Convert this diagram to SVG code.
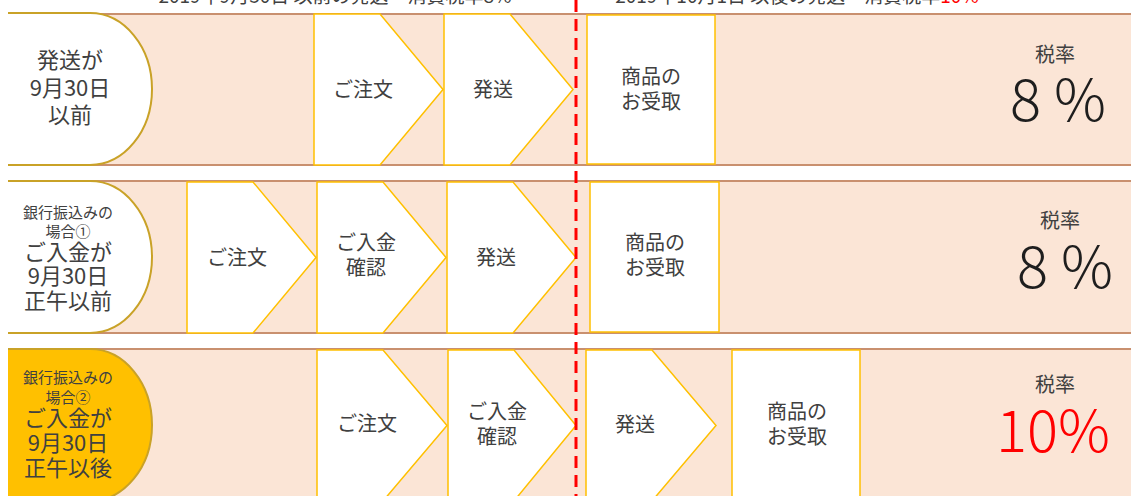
<svg xmlns="http://www.w3.org/2000/svg" width="1131" height="496" viewBox="0 0 1131 496">
<style>
text{font-family:"Noto Sans CJK JP","Noto Sans",sans-serif;fill:#404040;text-anchor:middle}
.band{fill:#FBE5D6;stroke:none}
.bline{stroke:#C9906F;stroke-width:2;fill:none}
.lfill{fill:#FFFFFF;stroke:none}
.lfill3{fill:#FFC000;stroke:none}
.lstroke{fill:none;stroke:#C9A227;stroke-width:2}
.step{fill:#FFFFFF;stroke:#FFC000;stroke-width:1.5}
.t20{font-size:20px}
.t22{font-size:22px}
.t15{font-size:15px}
.big{font-size:58px;font-weight:300;fill:#1E1E1E}
.red{fill:#FF0000}
.hdr{font-size:19px}
</style>
<g id="header">
<text class="hdr" x="335" y="3">2019年9月30日 以前の発送＝消費税率8%</text>
<text class="hdr" x="797" y="3">2019年10月1日 以後の発送＝消費税率<tspan fill="#FF0000">10%</tspan></text>
</g>
<g id="row1">
<rect class="band" x="8" y="14" width="1130" height="151"/>
<line class="bline" x1="8" y1="14" x2="1131" y2="14"/>
<line class="bline" x1="8" y1="165" x2="1131" y2="165"/>
<g id="r1-label">
<path class="lfill" d="M8,13 H90 A62,76 0 0 1 90,165 H8 Z"/>
<path class="lstroke" d="M8,13 H90 A62,76 0 0 1 90,165 H8"/>
<text class="t22" x="70" y="68">発送が</text>
<text class="t22" x="70" y="96">9月30日</text>
<text class="t22" x="70" y="123">以前</text>
</g>
<g id="r1-order"><path class="step" d="M314,14 H380 L443,89.5 L380,165 H314 Z"/><text class="t20" x="363" y="97">ご注文</text></g>
<g id="r1-ship"><path class="step" d="M444,14 H510 L573,89.5 L510,165 H444 Z"/><text class="t20" x="493" y="97">発送</text></g>
<g id="r1-receive"><rect class="step" x="587" y="15" width="128" height="149"/><text class="t20" x="651" y="84">商品の</text><text class="t20" x="651" y="109">お受取</text></g>
<g id="r1-rate"><text class="t20" x="1055" y="62">税率</text><text class="big" x="1058" y="121">8 %</text></g>
</g>
<g id="row2">
<rect class="band" x="8" y="181" width="1130" height="152"/>
<line class="bline" x1="8" y1="181" x2="1131" y2="181"/>
<line class="bline" x1="8" y1="333" x2="1131" y2="333"/>
<g id="r2-label">
<path class="lfill" d="M8,181 H90 A62,76 0 0 1 90,333 H8 Z"/>
<path class="lstroke" d="M8,181 H90 A62,76 0 0 1 90,333 H8"/>
<text class="t15" x="68" y="218">銀行振込みの</text>
<text class="t15" x="68" y="237">場合①</text>
<text class="t22" x="68" y="260">ご入金が</text>
<text class="t22" x="68" y="284">9月30日</text>
<text class="t22" x="68" y="309">正午以前</text>
</g>
<g id="r2-order"><path class="step" d="M187,182 H253 L316,257.5 L253,333 H187 Z"/><text class="t20" x="237" y="265">ご注文</text></g>
<g id="r2-pay"><path class="step" d="M317,182 H383 L446,257.5 L383,333 H317 Z"/><text class="t20" x="366" y="250">ご入金</text><text class="t20" x="366" y="275">確認</text></g>
<g id="r2-ship"><path class="step" d="M447,182 H513 L576,257.5 L513,333 H447 Z"/><text class="t20" x="496" y="265">発送</text></g>
<g id="r2-receive"><rect class="step" x="590" y="182" width="129" height="150"/><text class="t20" x="655" y="250">商品の</text><text class="t20" x="655" y="275">お受取</text></g>
<g id="r2-rate"><text class="t20" x="1060" y="228">税率</text><text class="big" x="1065" y="288">8 %</text></g>
</g>
<g id="row3">
<rect class="band" x="8" y="349" width="1130" height="160"/>
<line class="bline" x1="8" y1="349" x2="1131" y2="349"/>
<g id="r3-label">
<path class="lfill3" d="M8,349 H90 A62,76 0 0 1 90,501 H8 Z"/>
<path class="lstroke" d="M8,349 H90 A62,76 0 0 1 90,501 H8"/>
<text class="t15" x="68" y="383">銀行振込みの</text>
<text class="t15" x="68" y="403">場合②</text>
<text class="t22" x="68" y="426">ご入金が</text>
<text class="t22" x="68" y="451">9月30日</text>
<text class="t22" x="68" y="476">正午以後</text>
</g>
<g id="r3-order"><path class="step" d="M317,350 H383 L447,425.5 L383,501 H317 Z"/><text class="t20" x="367" y="431">ご注文</text></g>
<g id="r3-pay"><path class="step" d="M448,350 H514 L576,425.5 L514,501 H448 Z"/><text class="t20" x="497" y="419">ご入金</text><text class="t20" x="497" y="444">確認</text></g>
<g id="r3-ship"><path class="step" d="M586,350 H652 L716,425.5 L652,501 H586 Z"/><text class="t20" x="635" y="432">発送</text></g>
<g id="r3-receive"><rect class="step" x="732" y="350" width="128" height="150"/><text class="t20" x="797" y="419">商品の</text><text class="t20" x="797" y="444">お受取</text></g>
<g id="r3-rate"><text class="t20" x="1055" y="392">税率</text><text class="big red" x="1053" y="452">10%</text></g>
</g>
<g id="connectors">
<line x1="576" y1="0" x2="576" y2="496" stroke="#FF0000" stroke-width="3" stroke-dasharray="12 7"/>
</g>
</svg>
